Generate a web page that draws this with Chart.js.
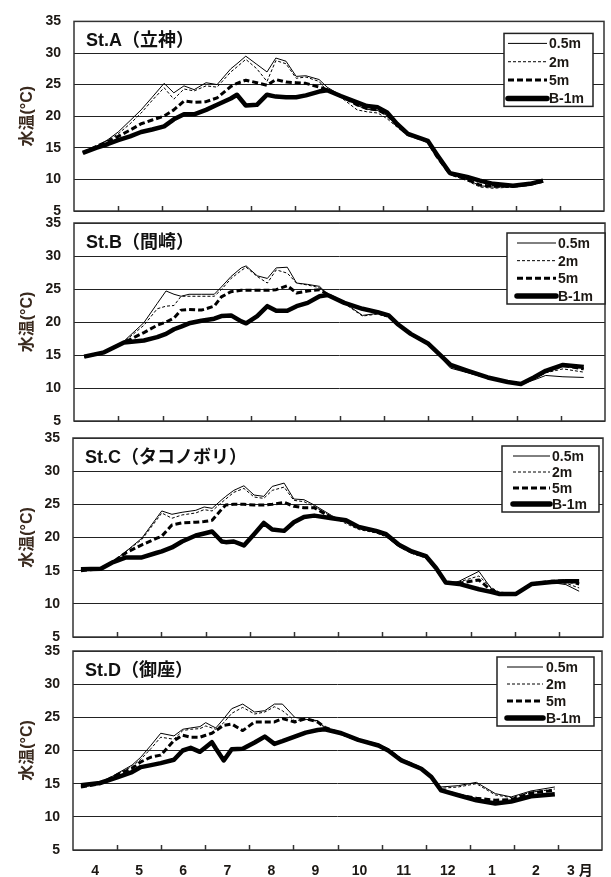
<!DOCTYPE html>
<html>
<head>
<meta charset="utf-8">
<script src="https://cdn.jsdelivr.net/npm/chart.js@4.4.1/dist/chart.umd.min.js"></script>
<style>
html, body { margin: 0; padding: 0; background: #fff; }
#wrap { position: relative; width: 611px; height: 877px; }
#wrap canvas { position: absolute; left: 0; top: 0; }
</style>
</head>
<body>
<div id="wrap">
  <canvas id="chartA" width="611" height="877"></canvas>
  <canvas id="chartB" width="611" height="877"></canvas>
  <canvas id="chartC" width="611" height="877"></canvas>
  <canvas id="chartD" width="611" height="877"></canvas>
</div>
<script>
// months counted from 1 April (0 = Apr 1, 12 = Apr 1 next year)
const monthLabels = ['4', '5', '6', '7', '8', '9', '10', '11', '12', '1', '2', '3 月'];
const seriesNames = ['0.5m', '2m', '5m', 'B-1m'];

// St.A
const xA = [0.20,0.50,0.77,1.00,1.27,1.52,1.77,2.04,2.26,2.49,2.72,2.99,3.24,3.55,3.69,3.89,4.14,4.37,4.57,4.80,5.03,5.25,5.55,5.73,6.04,6.41,6.63,6.88,7.09,7.31,7.56,8.01,8.22,8.51,8.90,9.19,9.49,9.94,10.32,10.62];
const a05 = [14.2,15.2,16.3,17.5,19.3,21.0,23.0,25.2,23.7,24.8,24.2,25.3,25.0,27.5,28.3,29.5,28.2,27.0,29.2,28.7,26.3,26.4,25.8,24.6,23.3,21.7,21.1,20.9,20.1,18.5,17.1,16.0,13.7,10.9,10.0,9.0,8.8,8.9,9.3,9.7];
const a2  = [14.2,15.2,16.2,17.2,18.8,20.5,22.5,24.5,22.7,24.3,24.0,24.8,24.6,27.0,27.8,29.0,27.5,25.5,28.8,28.3,26.0,26.2,25.5,24.0,23.0,21.0,20.7,20.5,19.6,18.3,17.0,16.0,13.5,10.8,9.8,8.8,8.6,8.8,9.3,9.7];
const a5  = [14.2,15.2,16.0,16.8,17.8,18.8,19.4,20.0,21.0,22.4,22.2,22.3,22.9,24.7,25.2,25.7,25.3,24.9,25.8,25.4,25.3,25.2,24.6,24.2,23.2,21.8,21.2,21.0,20.2,18.6,17.1,16.0,13.6,10.9,10.0,9.1,8.9,8.9,9.2,9.7];
const aB1 = [14.2,15.0,15.6,16.2,16.8,17.5,17.9,18.4,19.5,20.3,20.3,21.0,21.8,22.8,23.4,21.7,21.8,23.4,23.1,23.0,23.0,23.3,23.9,24.1,23.2,22.2,21.6,21.4,20.6,18.8,17.2,16.1,13.9,11.0,10.4,9.8,9.3,9.0,9.3,9.8];

// St.B
const xB = [0.23,0.68,1.13,1.58,1.88,2.08,2.26,2.42,2.60,2.88,3.17,3.33,3.55,3.78,3.89,4.14,4.37,4.57,4.82,5.03,5.28,5.55,5.73,6.11,6.52,6.86,7.11,7.31,7.61,8.01,8.29,8.51,8.90,9.35,9.80,10.10,10.39,10.66,11.05,11.52];
const b05 = [14.75,15.5,17.1,19.9,22.8,24.7,24.2,23.9,24.2,24.2,24.2,25.3,26.9,28.2,28.5,27.0,26.6,28.2,28.3,25.9,25.7,25.4,24.2,22.9,21.0,21.3,20.8,19.6,18.1,16.6,14.6,13.0,12.3,11.5,10.9,10.6,11.2,11.9,11.7,11.6];
const b2  = [14.75,15.5,17.0,19.5,22.0,22.4,22.5,23.9,23.9,23.9,23.9,24.9,26.6,27.8,28.3,26.9,25.9,27.9,27.4,25.9,25.6,25.2,24.0,22.8,20.9,21.2,20.7,19.5,18.0,16.6,14.7,13.1,12.4,11.5,10.8,10.5,11.3,12.3,12.9,12.4];
const b5  = [14.75,15.4,16.9,18.4,19.5,20.0,20.6,21.8,21.9,21.8,22.4,23.8,24.6,24.8,24.8,24.8,24.8,24.9,25.5,24.4,24.7,24.9,24.2,22.9,22.0,21.4,20.9,19.7,18.2,16.7,14.9,13.4,12.5,11.6,10.9,10.6,11.5,12.5,13.4,12.9];
const bB1 = [14.75,15.4,16.9,17.2,17.7,18.2,18.9,19.3,19.8,20.2,20.5,20.9,21.0,20.1,19.8,20.9,22.4,21.7,21.7,22.4,22.9,23.9,24.1,22.9,22.0,21.5,21.0,19.7,18.2,16.7,14.9,13.5,12.6,11.6,10.9,10.6,11.6,12.6,13.5,13.2];

// St.C
const xC = [0.18,0.63,0.88,1.20,1.56,1.90,2.01,2.24,2.47,2.78,2.97,3.15,3.37,3.46,3.64,3.87,4.10,4.32,4.51,4.78,5.00,5.23,5.46,5.86,6.18,6.47,6.86,7.09,7.38,7.67,7.99,8.22,8.44,8.74,9.19,9.46,9.64,10.03,10.39,10.84,11.16,11.46];
const c05 = [15.0,15.3,16.2,17.9,19.9,23.0,24.0,23.5,23.8,24.1,24.6,24.4,25.7,26.2,27.1,27.8,26.4,26.2,27.7,28.2,25.8,25.7,24.9,23.3,22.3,21.4,20.8,20.2,18.7,17.7,17.0,15.2,13.0,13.4,14.9,12.4,11.7,11.4,12.9,13.2,12.9,11.9];
const c2  = [15.0,15.3,16.2,17.9,19.7,22.7,23.7,22.9,23.4,23.7,24.2,24.0,25.3,25.8,26.8,27.4,26.1,25.9,27.1,27.6,25.6,25.4,24.7,23.1,22.1,21.2,20.7,20.1,18.6,17.6,16.9,15.2,13.1,13.3,14.2,12.5,11.8,11.5,13.0,13.3,13.1,12.4];
const c5  = [15.0,15.3,16.2,17.7,18.9,19.9,20.2,21.9,22.2,22.3,22.4,22.6,24.3,24.9,25.0,25.0,24.9,24.9,25.0,25.3,24.7,24.5,24.5,23.0,22.5,21.5,20.9,20.4,18.8,17.8,17.1,15.3,13.2,13.1,13.6,12.1,11.6,11.5,13.0,13.4,13.5,13.0];
const cB1 = [15.2,15.3,16.2,17.0,17.0,17.7,17.9,18.5,19.4,20.3,20.6,20.9,19.4,19.3,19.4,18.8,20.5,22.2,21.2,21.0,22.3,23.1,23.3,22.9,22.6,21.6,21.0,20.5,18.9,17.9,17.2,15.4,13.2,13.0,12.2,11.8,11.5,11.5,13.0,13.3,13.4,13.4];

// St.D
const xD = [0.18,0.61,1.02,1.34,1.54,1.77,1.99,2.29,2.49,2.67,2.88,3.01,3.15,3.24,3.42,3.60,3.85,4.12,4.35,4.57,4.75,5.03,5.28,5.55,5.71,6.09,6.47,6.93,7.15,7.45,7.90,8.13,8.35,8.74,9.15,9.58,9.94,10.39,10.93];
const d05 = [14.5,15.0,16.6,17.8,19.0,20.8,22.6,22.2,23.2,23.4,23.6,24.2,23.7,23.4,24.8,26.3,27.0,25.8,26.0,27.0,27.0,25.0,24.7,24.5,23.5,22.5,21.5,20.8,20.0,18.5,17.2,16.0,14.5,14.7,15.2,13.5,13.0,13.9,14.5];
const d2  = [14.5,15.0,16.5,17.6,18.7,20.3,22.0,21.7,23.0,23.2,23.3,23.7,23.4,23.2,24.2,25.6,26.5,25.5,25.8,26.6,26.0,24.5,24.7,24.4,23.4,22.4,21.4,20.7,19.9,18.4,17.1,15.9,14.3,14.5,15.0,13.3,12.9,13.7,14.2];
const d5  = [14.5,15.0,16.4,17.3,18.3,19.0,19.3,21.5,22.3,22.0,22.0,22.3,22.6,23.0,23.8,24.0,23.0,24.3,24.3,24.3,24.8,24.3,24.8,24.3,23.5,22.5,21.6,20.8,20.1,18.6,17.3,16.0,14.1,13.3,12.8,12.5,12.6,13.6,14.0];
const dB1 = [14.75,15.1,16.0,16.75,17.5,17.8,18.1,18.6,20.0,20.4,19.8,20.5,21.25,20.3,18.5,20.2,20.25,21.2,22.1,21.0,21.4,22.1,22.7,23.1,23.2,22.6,21.6,20.75,20.0,18.5,17.25,16.0,14.0,13.25,12.5,12.0,12.3,13.1,13.4];

const FONT = '"Liberation Sans", Arial, "Noto Sans CJK JP", sans-serif';
const TXT = '#1c1814';

// width / dash of each depth line
const lineStyles = [
  { w: 1, dash: [] },
  { w: 1, dash: [3, 2] },
  { w: 3, dash: [6, 3] },
  { w: 4.5, dash: [] }
];

// frame, inner month ticks, station name and legend box
const panelDeco = {
  id: 'panelDeco',
  afterDatasetsDraw(chart, args, opts) {
    const { ctx, chartArea: a } = chart;
    const xs = chart.scales.x;
    ctx.save();
    ctx.strokeStyle = '#333';
    ctx.lineWidth = 1.5;
    ctx.strokeRect(a.left, a.top, a.right - a.left, a.bottom - a.top);
    for (let m = 1; m < 12; m++) {
      const px = Math.round(xs.getPixelForValue(m)) + 0.5;
      ctx.beginPath();
      ctx.moveTo(px, a.bottom);
      ctx.lineTo(px, a.bottom - 5);
      ctx.stroke();
    }
    ctx.fillStyle = '#111';
    ctx.font = 'bold 18px ' + FONT;
    ctx.textBaseline = 'middle';
    ctx.textAlign = 'left';
    ctx.fillText(opts.title, a.left + 12, a.top + 20);

    const L = opts.legend;
    const bx = a.right - L.right - L.w, by = a.top + L.top;
    ctx.fillStyle = '#fff';
    ctx.fillRect(bx, by, L.w, L.h);
    ctx.strokeStyle = '#222';
    ctx.lineWidth = 1.5;
    ctx.strokeRect(bx, by, L.w, L.h);
    const gap = (L.h - 18) / 3;
    chart.data.datasets.forEach((ds, i) => {
      const y = by + 10 + i * gap;
      ctx.beginPath();
      ctx.strokeStyle = '#000';
      ctx.setLineDash(ds.borderDash);
      ctx.lineWidth = i === 3 ? 5.5 : ds.borderWidth;
      ctx.lineCap = i === 3 ? 'round' : 'butt';
      ctx.moveTo(bx + L.lx0, y);
      ctx.lineTo(bx + L.lx1, y);
      ctx.stroke();
      ctx.setLineDash([]);
      ctx.fillStyle = TXT;
      ctx.font = 'bold 14px ' + FONT;
      ctx.fillText(ds.label, bx + L.tx, y + 1);
    });
    ctx.restore();
  }
};

function makeChart(id, P) {
  const series = P.series;
  return new Chart(document.getElementById(id), {
    type: 'line',
    data: {
      datasets: series.map((ys, i) => ({
        label: seriesNames[i],
        data: P.x.map((x, k) => ({ x: x, y: ys[k] })),
        borderColor: '#000',
        borderWidth: lineStyles[i].w,
        borderDash: lineStyles[i].dash,
        borderCapStyle: 'butt',
        borderJoinStyle: 'round',
        pointRadius: 0,
        tension: 0,
        fill: false
      }))
    },
    options: {
      responsive: false,
      animation: false,
      events: [],
      layout: {
        padding: { left: 10, right: 611 - P.area.right, top: P.area.top, bottom: 877 - P.area.bottom - P.xh }
      },
      plugins: {
        legend: { display: false },
        tooltip: { enabled: false },
        panelDeco: { title: P.title, legend: P.legend }
      },
      scales: {
        x: {
          type: 'linear',
          min: 0,
          max: 12,
          afterFit: s => { s.height = P.xh; },
          afterBuildTicks: s => { s.ticks = monthLabels.map((t, i) => ({ value: i + 0.5 })); },
          grid: { display: false },
          border: { display: false },
          ticks: {
            display: P.showMonths,
            autoSkip: false,
            maxRotation: 0,
            padding: 5,
            color: TXT,
            font: { family: FONT, size: 14, weight: 'bold' },
            callback: (v, i) => monthLabels[i]
          }
        },
        y: {
          min: 5,
          max: 35,
          afterFit: s => { s.width = P.area.left - 10; },
          ticks: {
            stepSize: 5,
            padding: 13,
            color: TXT,
            font: { family: FONT, size: 14, weight: 'bold' }
          },
          grid: { color: '#222', lineWidth: 1, drawTicks: false },
          border: { display: false },
          title: {
            display: true,
            text: '水温(°C)',
            color: '#3a2a1e',
            font: { family: FONT, size: 16, weight: 'bold' },
            padding: { top: 8, bottom: 0 }
          }
        }
      }
    },
    plugins: [panelDeco]
  });
}

makeChart('chartA', {
  title: 'St.A（立神）',
  x: xA, series: [a05, a2, a5, aB1],
  area: { left: 74, right: 604, top: 15, bottom: 211 }, xh: 0, showMonths: false,
  legend: { right: 11, top: 12, w: 89, h: 73, lx0: 4, lx1: 43, tx: 45 }
});
makeChart('chartB', {
  title: 'St.B（間崎）',
  x: xB, series: [b05, b2, b5, bB1],
  area: { left: 74, right: 605, top: 223, bottom: 421 }, xh: 0, showMonths: false,
  legend: { right: 0, top: 10, w: 98, h: 71, lx0: 10, lx1: 49, tx: 51 }
});
makeChart('chartC', {
  title: 'St.C（タコノボリ）',
  x: xC, series: [c05, c2, c5, cB1],
  area: { left: 73, right: 603, top: 438, bottom: 637 }, xh: 0, showMonths: false,
  legend: { right: 4, top: 8, w: 97, h: 66, lx0: 11, lx1: 48, tx: 50 }
});
makeChart('chartD', {
  title: 'St.D（御座）',
  x: xD, series: [d05, d2, d5, dB1],
  area: { left: 73, right: 602, top: 651, bottom: 850 }, xh: 27, showMonths: true,
  legend: { right: 8, top: 6, w: 97, h: 69, lx0: 10, lx1: 46, tx: 49 }
});
</script>
</body>
</html>
